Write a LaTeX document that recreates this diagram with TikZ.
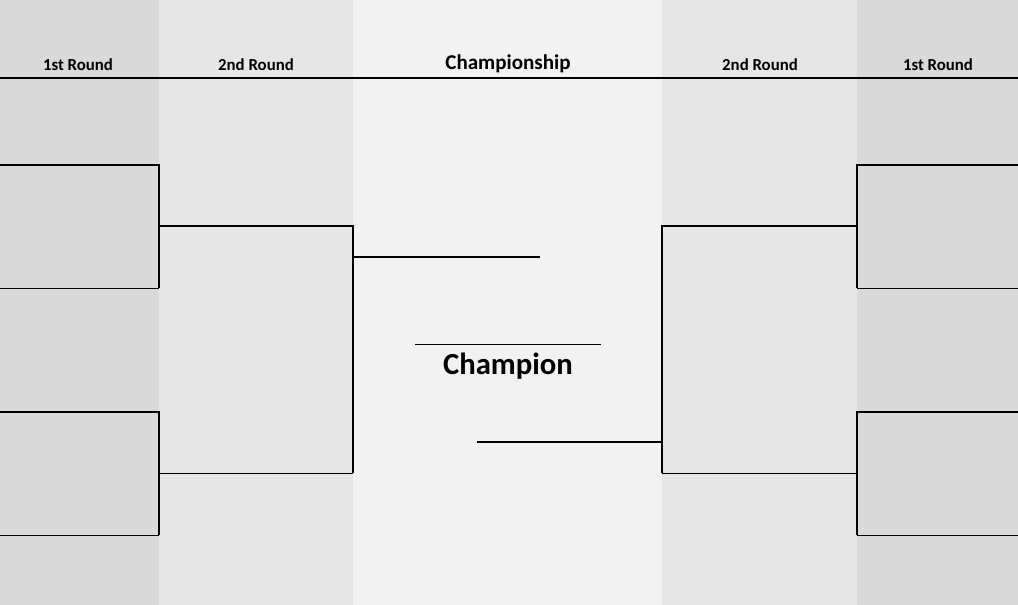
\documentclass[tikz,border=0pt]{standalone}
\usepackage{fontspec}
\setmainfont{Carlito}
\usetikzlibrary{positioning}
\definecolor{colOuter}{HTML}{D9D9D9}
\definecolor{colMid}{HTML}{E6E6E6}
\definecolor{colInner}{HTML}{F2F2F2}
\tikzset{
    heading/.style={font=\bfseries\fontsize{12.6}{14}\selectfont, inner sep=0pt},
    bracket/.style={line width=1.1pt, black},
    slot/.style={line width=0.6pt, black}
}
\begin{document}
\begin{tikzpicture}[x=0.75pt, y=-0.75pt]
  \useasboundingbox (0,0) rectangle (1018,605);
  % column backgrounds
  \fill[colOuter] (0,0) rectangle (159,605);
  \fill[colMid] (159,0) rectangle (353,605);
  \fill[colInner] (353,0) rectangle (662,605);
  \fill[colMid] (662,0) rectangle (857,605);
  \fill[colOuter] (857,0) rectangle (1018,605);

  \node (h1) [heading] at (78,65) {1st Round};
  \node (h2) [heading] at (256,65) {2nd Round};
  \node (h3) [heading, font=\bfseries\fontsize{15.8}{18}\selectfont] at (508,64) {Championship};
  \node (h4) [heading] at (760,65) {2nd Round};
  \node (h5) [heading] at (938,65) {1st Round};
  \coordinate (hl) at (0,78);
  \coordinate (hr) at (1018,78);
  \draw[bracket] (hl) -- (hr);

  % left side
  \coordinate (la1) at (0,165);   \coordinate (lb1) at (159,165);
  \coordinate (la2) at (0,288);   \coordinate (lb2) at (159,288);
  \coordinate (la3) at (0,412);   \coordinate (lb3) at (159,412);
  \coordinate (la4) at (0,535);   \coordinate (lb4) at (159,535);
  \coordinate (lc1) at (159,226); \coordinate (ld1) at (353,226);
  \coordinate (lc2) at (159,473); \coordinate (ld2) at (353,473);
  \coordinate (le) at (353,257);  \coordinate (lf) at (540,257);
  \draw[bracket] (la1) -- (lb1) -- (lb2);
  \draw[slot] (la2) -- (lb2);
  \draw[bracket] (la3) -- (lb3) -- (lb4);
  \draw[slot] (la4) -- (lb4);
  \draw[bracket] (lc1) -- (ld1) -- (ld2);
  \draw[slot] (lc2) -- (ld2);
  \draw[bracket] (le) -- (lf);

  % right side
  \coordinate (ra1) at (1018,165); \coordinate (rb1) at (857,165);
  \coordinate (ra2) at (1018,288); \coordinate (rb2) at (857,288);
  \coordinate (ra3) at (1018,412); \coordinate (rb3) at (857,412);
  \coordinate (ra4) at (1018,535); \coordinate (rb4) at (857,535);
  \coordinate (rc1) at (857,226);  \coordinate (rd1) at (662,226);
  \coordinate (rc2) at (857,473);  \coordinate (rd2) at (662,473);
  \coordinate (re) at (662,442);   \coordinate (rf) at (477,442);
  \draw[bracket] (ra1) -- (rb1) -- (rb2);
  \draw[slot] (ra2) -- (rb2);
  \draw[bracket] (ra3) -- (rb3) -- (rb4);
  \draw[slot] (ra4) -- (rb4);
  \draw[bracket] (rc1) -- (rd1) -- (rd2);
  \draw[slot] (rc2) -- (rd2);
  \draw[bracket] (re) -- (rf);

  % champion
  \coordinate (ca) at (415,344);
  \coordinate (cb) at (601,344);
  \draw[line width=0.5pt] (ca) -- (cb);
  \node (champ) [heading, font=\bfseries\fontsize{23}{26}\selectfont] at (508,366) {Champion};
\end{tikzpicture}
\end{document}
